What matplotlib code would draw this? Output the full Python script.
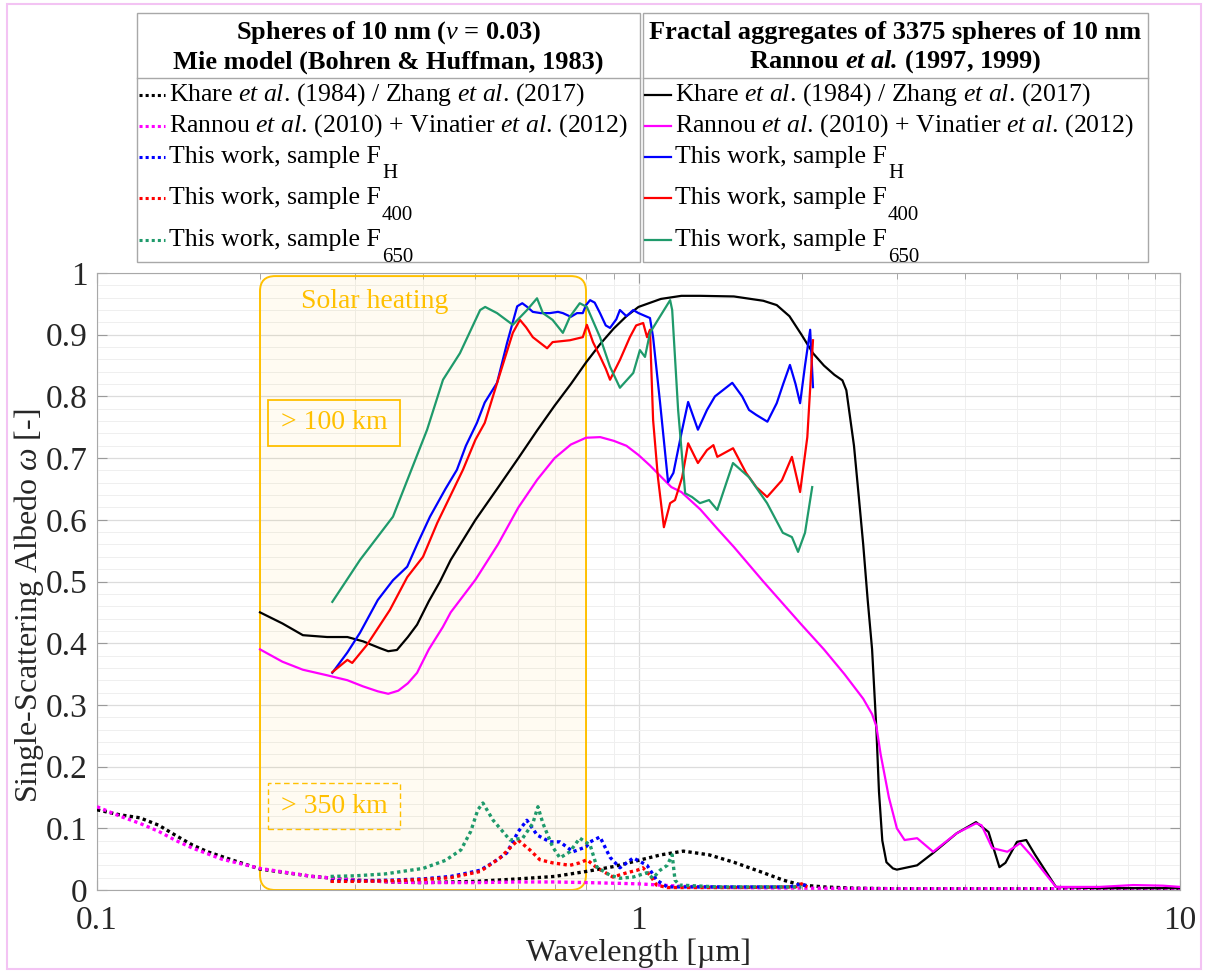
import matplotlib
matplotlib.use('Agg')
import matplotlib.pyplot as plt
from matplotlib.patches import Rectangle, FancyBboxPatch
from matplotlib.lines import Line2D
from matplotlib.ticker import MultipleLocator, LogLocator, NullFormatter
import numpy as np

plt.rcParams['font.family'] = ['Liberation Serif', 'DejaVu Serif']
plt.rcParams['mathtext.fontset'] = 'custom'
plt.rcParams['mathtext.rm'] = 'Liberation Serif'
plt.rcParams['mathtext.it'] = 'Liberation Serif:italic'
plt.rcParams['mathtext.bf'] = 'Liberation Serif:bold'
plt.rcParams['mathtext.bfit'] = 'Liberation Serif:bold:italic'

# ---- fractal aggregates (solid lines) ----
wl_khare_frac = [0.2, 0.22, 0.24, 0.266, 0.29, 0.31, 0.333, 0.345, 0.358, 0.375, 0.39, 0.41, 0.43, 0.45,
                 0.5, 0.55, 0.6, 0.65, 0.7, 0.75, 0.8, 0.85, 0.9, 0.95, 1.0, 1.1, 1.2, 1.3, 1.5, 1.7,
                 1.8, 1.9, 2.0, 2.1, 2.2, 2.3, 2.38, 2.42, 2.5, 2.55, 2.6, 2.65, 2.7, 2.75, 2.78, 2.82,
                 2.87, 2.95, 3.0, 3.27, 3.5, 3.87, 4.2, 4.43, 4.64, 4.76, 5.0, 5.2, 5.4, 5.9, 7.0, 10.0]
ssa_khare_frac = [0.45, 0.432, 0.413, 0.41, 0.41, 0.403, 0.392, 0.387, 0.389, 0.41, 0.43, 0.468, 0.50, 0.535,
                  0.6, 0.652, 0.7, 0.745, 0.785, 0.82, 0.855, 0.885, 0.91, 0.93, 0.945, 0.958, 0.963, 0.963,
                  0.962, 0.955, 0.948, 0.93, 0.9, 0.87, 0.85, 0.835, 0.826, 0.81, 0.72, 0.64, 0.56, 0.47,
                  0.39, 0.26, 0.16, 0.08, 0.045, 0.035, 0.033, 0.04, 0.06, 0.092, 0.11, 0.094, 0.037, 0.044,
                  0.078, 0.081, 0.057, 0.005, 0.003, 0.003]

wl_rannou_frac = [0.2, 0.22, 0.24, 0.266, 0.29, 0.31, 0.33, 0.345, 0.36, 0.375, 0.39, 0.41, 0.435, 0.45,
                  0.5, 0.55, 0.6, 0.65, 0.7, 0.75, 0.8, 0.85, 0.9, 0.95, 1.0, 1.05, 1.1, 1.15, 1.2, 1.3,
                  1.4, 1.5, 1.7, 2.0, 2.2, 2.4, 2.6, 2.7, 2.75, 2.8, 2.9, 3.0, 3.1, 3.27, 3.5, 3.87, 4.2,
                  4.3, 4.5, 4.8, 5.07, 5.3, 5.6, 5.9, 7.1, 8.2, 9.3, 10.0]
ssa_rannou_frac = [0.39, 0.37, 0.357, 0.348, 0.34, 0.33, 0.322, 0.318, 0.323, 0.335, 0.352, 0.39, 0.426, 0.45,
                   0.503, 0.56, 0.62, 0.665, 0.7, 0.722, 0.733, 0.734, 0.728, 0.72, 0.705, 0.688, 0.67,
                   0.653, 0.645, 0.617, 0.585, 0.556, 0.5, 0.43, 0.39, 0.35, 0.31, 0.285, 0.265, 0.22, 0.15,
                   0.1, 0.081, 0.084, 0.062, 0.092, 0.108, 0.105, 0.068, 0.062, 0.076, 0.057, 0.03, 0.005,
                   0.005, 0.008, 0.007, 0.005]

wl_fh_frac = [0.272, 0.29, 0.306, 0.33, 0.352, 0.374, 0.39, 0.412, 0.44, 0.462, 0.48, 0.503, 0.52, 0.548,
              0.572, 0.597, 0.61, 0.623, 0.638, 0.66, 0.686, 0.71, 0.725, 0.75, 0.77, 0.789, 0.8, 0.814,
              0.83, 0.849, 0.87, 0.886, 0.91, 0.924, 0.95, 0.978, 1.0, 1.05, 1.064, 1.096, 1.134, 1.16,
              1.204, 1.235, 1.2875, 1.338, 1.384, 1.49, 1.554, 1.6, 1.65, 1.73, 1.8, 1.85, 1.904, 1.95,
              1.988, 2.03, 2.075, 2.1]
ssa_fh_frac = [0.352, 0.385, 0.417, 0.47, 0.502, 0.524, 0.56, 0.605, 0.65, 0.681, 0.72, 0.757, 0.79, 0.822,
               0.887, 0.946, 0.951, 0.945, 0.937, 0.935, 0.935, 0.937, 0.935, 0.929, 0.935, 0.935, 0.948,
               0.956, 0.952, 0.935, 0.915, 0.911, 0.925, 0.94, 0.93, 0.94, 0.935, 0.927, 0.896, 0.79,
               0.661, 0.676, 0.746, 0.791, 0.746, 0.778, 0.8, 0.822, 0.8, 0.778, 0.77, 0.759, 0.789, 0.82,
               0.851, 0.82, 0.789, 0.85, 0.908, 0.815]

wl_f400_frac = [0.272, 0.29, 0.296, 0.315, 0.3475, 0.374, 0.4, 0.425, 0.45, 0.474, 0.5, 0.52, 0.55, 0.586,
                0.604, 0.62, 0.638, 0.678, 0.694, 0.747, 0.789, 0.803, 0.824, 0.85, 0.87, 0.886, 0.924,
                0.964, 0.99, 1.02, 1.037, 1.05, 1.064, 1.086, 1.114, 1.144, 1.168, 1.204, 1.235, 1.2875,
                1.338, 1.375, 1.398, 1.495, 1.58, 1.65, 1.728, 1.84, 1.92, 1.988, 2.05, 2.1]
ssa_f400_frac = [0.353, 0.373, 0.368, 0.397, 0.454, 0.507, 0.54, 0.595, 0.64, 0.681, 0.73, 0.757, 0.826,
                 0.903, 0.924, 0.912, 0.896, 0.878, 0.888, 0.891, 0.896, 0.916, 0.888, 0.864, 0.845, 0.827,
                 0.859, 0.896, 0.915, 0.919, 0.896, 0.908, 0.762, 0.669, 0.588, 0.627, 0.632, 0.669, 0.724,
                 0.692, 0.713, 0.721, 0.702, 0.716, 0.676, 0.653, 0.637, 0.664, 0.702, 0.645, 0.734, 0.891]

wl_f650_frac = [0.272, 0.306, 0.352, 0.407, 0.4355, 0.468, 0.51, 0.521, 0.548, 0.586, 0.6225, 0.6495,
                0.666, 0.694, 0.725, 0.747, 0.779, 0.803, 0.849, 0.886, 0.924, 0.978, 1.006, 1.028, 1.05,
                1.086, 1.144, 1.154, 1.1835, 1.2195, 1.2555, 1.2985, 1.35, 1.398, 1.4945, 1.6, 1.7275,
                1.847, 1.92, 1.971, 2.03, 2.093]
ssa_f650_frac = [0.467, 0.535, 0.605, 0.746, 0.827, 0.87, 0.94, 0.945, 0.935, 0.916, 0.94, 0.959, 0.935,
                 0.924, 0.903, 0.929, 0.951, 0.945, 0.896, 0.848, 0.814, 0.838, 0.875, 0.864, 0.903, 0.924,
                 0.956, 0.94, 0.778, 0.643, 0.637, 0.627, 0.632, 0.616, 0.692, 0.669, 0.627, 0.579, 0.572,
                 0.548, 0.579, 0.653]

# ---- Mie spheres (dotted lines) ----
wl_khare_mie = [0.1, 0.11, 0.12, 0.13, 0.14, 0.15, 0.16, 0.18, 0.2, 0.25, 0.3, 0.35, 0.4, 0.5, 0.6, 0.7,
                0.8, 0.9, 1.0, 1.1, 1.21, 1.35, 1.5, 1.7, 1.85, 2.0, 2.2, 2.5, 3.0, 10.0]
ssa_khare_mie = [0.13, 0.122, 0.117, 0.105, 0.088, 0.073, 0.062, 0.047, 0.034, 0.022, 0.016, 0.013, 0.012,
                 0.014, 0.018, 0.022, 0.03, 0.038, 0.048, 0.057, 0.063, 0.057, 0.045, 0.028, 0.016, 0.008,
                 0.005, 0.003, 0.002, 0.002]

wl_rannou_mie = [0.1, 0.11, 0.12, 0.13, 0.14, 0.15, 0.17, 0.2, 0.25, 0.3, 0.35, 0.4, 0.5, 0.6, 0.7, 0.8,
                 0.9, 1.0, 1.2, 1.5, 2.0, 3.0, 10.0]
ssa_rannou_mie = [0.135, 0.12, 0.108, 0.095, 0.08, 0.068, 0.05, 0.035, 0.022, 0.016, 0.013, 0.012, 0.012,
                  0.013, 0.013, 0.012, 0.011, 0.01, 0.006, 0.004, 0.003, 0.002, 0.002]

wl_fh_mie = [0.27, 0.3, 0.35, 0.4, 0.45, 0.48, 0.51, 0.54, 0.571, 0.6, 0.622, 0.65, 0.686, 0.716, 0.757,
             0.8, 0.814, 0.849, 0.886, 0.924, 0.978, 1.037, 1.08, 1.13, 1.3, 1.6, 1.9, 2.0, 2.05]
ssa_fh_mie = [0.015, 0.015, 0.016, 0.018, 0.022, 0.027, 0.032, 0.045, 0.06, 0.095, 0.113, 0.089, 0.078,
              0.078, 0.062, 0.07, 0.078, 0.086, 0.053, 0.036, 0.052, 0.04, 0.016, 0.005, 0.005, 0.005,
              0.005, 0.01, 0.006]

wl_f400_mie = [0.27, 0.3, 0.35, 0.4, 0.45, 0.51, 0.555, 0.599, 0.63, 0.6575, 0.694, 0.747, 0.779, 0.803,
               0.838, 0.897, 0.952, 0.994, 1.019, 1.05, 1.08, 1.13, 1.5, 1.95, 2.0, 2.05]
ssa_f400_mie = [0.014, 0.014, 0.015, 0.017, 0.02, 0.03, 0.052, 0.081, 0.065, 0.049, 0.044, 0.04, 0.044,
                0.049, 0.036, 0.021, 0.028, 0.032, 0.036, 0.024, 0.008, 0.004, 0.004, 0.005, 0.01, 0.005]

wl_f650_mie = [0.27, 0.3, 0.34, 0.4, 0.44, 0.47, 0.49, 0.505, 0.516, 0.539, 0.579, 0.611, 0.638, 0.652,
               0.666, 0.694, 0.716, 0.747, 0.779, 0.814, 0.838, 0.886, 0.924, 0.978, 1.037, 1.063, 1.096,
               1.13, 1.154, 1.168, 1.19, 1.4, 2.0]
ssa_f650_mie = [0.022, 0.023, 0.026, 0.035, 0.048, 0.065, 0.095, 0.13, 0.141, 0.113, 0.081, 0.084, 0.108,
                0.135, 0.108, 0.07, 0.052, 0.062, 0.084, 0.073, 0.037, 0.024, 0.019, 0.021, 0.028, 0.019,
                0.032, 0.04, 0.057, 0.016, 0.008, 0.005, 0.005]

series_colors = ['black', '#ff00ff', '#0000ff', '#ff0000', '#1f9a6b']
# label text and subscript (drawn separately, MATLAB-style low subscript)
series_labels = [(r'Khare $\mathit{et\ al.}\,$(1984) / Zhang $\mathit{et\ al.}\,$(2017)', ''),
                 (r'Rannou $\mathit{et\ al.}\,$(2010) + Vinatier $\mathit{et\ al.}\,$(2012)', ''),
                 ('This work, sample F', 'H'),
                 ('This work, sample F', '400'),
                 ('This work, sample F', '650')]
mie_curves = [(wl_khare_mie, ssa_khare_mie), (wl_rannou_mie, ssa_rannou_mie), (wl_fh_mie, ssa_fh_mie),
              (wl_f400_mie, ssa_f400_mie), (wl_f650_mie, ssa_f650_mie)]
frac_curves = [(wl_khare_frac, ssa_khare_frac), (wl_rannou_frac, ssa_rannou_frac), (wl_fh_frac, ssa_fh_frac),
               (wl_f400_frac, ssa_f400_frac), (wl_f650_frac, ssa_f650_frac)]

W, H = 1208, 974
fig = plt.figure(figsize=(W / 100, H / 100), dpi=100)
ax = fig.add_axes([97 / W, 1 - 890 / H, 1083 / W, 617 / H])

gold = '#ffc000'
# solar heating window (0.2 - 0.8 um), rounded corners in axes coords
x0 = (np.log10(0.2) + 1) / 2
x1 = (np.log10(0.8) + 1) / 2
solar = FancyBboxPatch((x0, 0.0), x1 - x0, 0.995, boxstyle='round,pad=0,rounding_size=0.014',
                       mutation_aspect=1083 / 617, transform=ax.transAxes,
                       facecolor=(1, 0.75, 0, 0.05), edgecolor=gold, lw=1.4, zorder=1)
ax.add_patch(solar)
ax.text(0.326, 0.953, 'Solar heating', color=gold, fontsize=20, ha='center', va='center', zorder=4)
ax.add_patch(Rectangle((0.158, 0.7196), 0.122, 0.0746, transform=ax.transAxes, fill=False,
                       ec=gold, lw=1.3, zorder=4))
ax.text(0.219, 0.757, '> 100 km', transform=ax.transAxes, color=gold, fontsize=20,
        ha='center', va='center', zorder=4)
ax.add_patch(Rectangle((0.158, 0.0989), 0.122, 0.0746, transform=ax.transAxes, fill=False,
                       ec=gold, lw=1.0, ls=(0, (4, 2.5)), zorder=4))
ax.text(0.219, 0.136, '> 350 km', transform=ax.transAxes, color=gold, fontsize=20,
        ha='center', va='center', zorder=4)

for (wl, ssa), c in zip(mie_curves, series_colors):
    ax.plot(wl, ssa, color=c, lw=2.4, ls=(0, (1, 1)), zorder=3)
for (wl, ssa), c in zip(frac_curves, series_colors):
    ax.plot(wl, ssa, color=c, lw=1.6, zorder=3)

ax.set_xscale('log')
ax.set_xlim(0.1, 10)
ax.set_ylim(0, 1)
ax.set_xticks([0.1, 1, 10])
ax.set_xticklabels(['0.1', '1', '10'])
ax.xaxis.set_minor_locator(LogLocator(base=10, subs=np.arange(2, 10)))
ax.xaxis.set_minor_formatter(NullFormatter())
ax.set_yticks(np.round(np.arange(0, 1.01, 0.1), 1))
ax.set_yticklabels(['0'] + ['%.1f' % v for v in np.arange(0.1, 0.95, 0.1)] + ['1'])
ax.yaxis.set_minor_locator(MultipleLocator(0.02))
ax.grid(which='major', color='#dcdcdc', lw=0.9)
ax.grid(which='minor', color='#efefef', lw=0.7)
ax.set_axisbelow(True)
ax.tick_params(which='both', direction='in', top=True, right=True, color='#9a9a9a',
               labelcolor='#262626', labelsize=24)
ax.tick_params(which='major', length=7)
ax.tick_params(axis='x', which='major', pad=11)
ax.tick_params(axis='y', which='major', pad=7)
ax.tick_params(axis='x', which='minor', length=4)
ax.tick_params(axis='y', which='minor', length=0)
for s in ax.spines.values():
    s.set_color('#a8a8a8')
ax.set_xlabel('Wavelength [µm]', fontsize=23, color='#262626', labelpad=2)
ax.set_ylabel(r'Single-Scattering Albedo $\omega$ [-]', fontsize=23, color='#262626')
ax.yaxis.set_label_coords(-0.047, 0.46)

# ---- two-column legend tables above the axes ----
def fx(px):
    return px / W


def fy(py):
    return 1 - py / H


tables = [
    (137, 640, [r'Spheres of 10 nm ($\nu$ = 0.03)', 'Mie model (Bohren & Huffman, 1983)'], (0, (1, 1)), 2.2),
    (643, 1148, ['Fractal aggregates of 3375 spheres of 10 nm', r'Rannou $\mathbfit{et\ al.}\,$(1997, 1999)'], '-', 1.6),
]
row_y = [95, 126, 157, 198, 240]
renderer = fig.canvas.get_renderer()
for left, right, header, style, lw in tables:
    fig.add_artist(Rectangle((fx(left), fy(262)), fx(right - left), (262 - 13) / H,
                             transform=fig.transFigure, fill=False, ec='#a8a8a8', lw=1.0))
    fig.add_artist(Line2D([fx(left), fx(right)], [fy(78), fy(78)], transform=fig.transFigure,
                          color='#a8a8a8', lw=1.0))
    cx = fx((left + right) / 2)
    fig.text(cx, fy(33), header[0], ha='center', va='center', fontsize=19, fontweight='bold')
    fig.text(cx, fy(62), header[1], ha='center', va='center', fontsize=19, fontweight='bold')
    for yy, (lab, sub), c in zip(row_y, series_labels, series_colors):
        fig.add_artist(Line2D([fx(left + 2), fx(left + 28)], [fy(yy), fy(yy)], transform=fig.transFigure,
                              color=c, lw=lw, ls=style))
        t = fig.text(fx(left + 32), fy(yy), lab, ha='left', va='center', fontsize=18.5)
        if sub:
            bb = t.get_window_extent(renderer)
            fig.text(bb.x1 / W + 0.001, fy(yy + 17), sub, ha='left', va='center', fontsize=15)

# thin frame around the whole figure
fig.add_artist(Rectangle((fx(7), fy(969)), fx(1194), (969 - 4) / H, transform=fig.transFigure,
                         fill=False, ec='#f3c3f3', lw=1.5))

fig.savefig('out.png', dpi=100)
